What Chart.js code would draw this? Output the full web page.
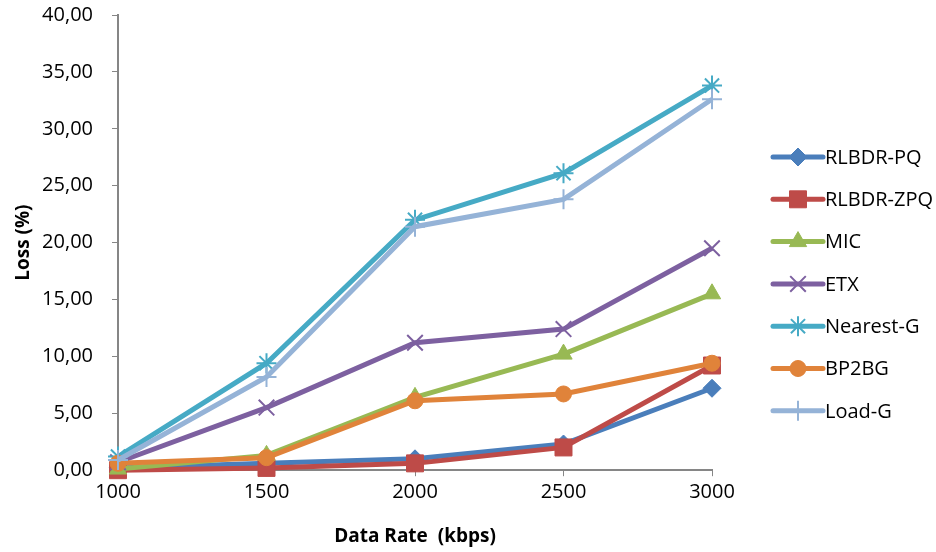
<!DOCTYPE html>
<html>
<head>
<meta charset="utf-8">
<script src="https://cdn.jsdelivr.net/npm/chart.js@4/dist/chart.umd.min.js"></script>
<style>
  html, body { margin: 0; padding: 0; background: #fff; }
  #wrap { width: 936px; height: 552px; }
</style>
</head>
<body>
<div id="wrap"><canvas id="lossChart" width="936" height="552"></canvas></div>
<script>
// data
const rates = ['1000', '1500', '2000', '2500', '3000'];
const yTicks = [0, 5, 10, 15, 20, 25, 30, 35, 40];

const rlbdrPq  = [0.2, 0.6, 1.0, 2.3, 7.2];
const rlbdrZpq = [0.0, 0.2, 0.6, 2.0, 9.2];
const mic      = [0.1, 1.3, 6.4, 10.2, 15.5];
const etx      = [0.7, 5.5, 11.2, 12.4, 19.5];
const nearestG = [1.2, 9.4, 22.0, 26.1, 33.8];
const bp2bg    = [0.6, 1.1, 6.1, 6.7, 9.4];
const loadG    = [0.9, 8.2, 21.4, 23.8, 32.6];

const seriesNames = ['RLBDR-PQ', 'RLBDR-ZPQ', 'MIC', 'ETX', 'Nearest-G', 'BP2BG', 'Load-G'];
const seriesData = [rlbdrPq, rlbdrZpq, mic, etx, nearestG, bp2bg, loadG];

const colors = ['#4A7EBB', '#BE4B48', '#98B954', '#7D60A0', '#46AAC5', '#E0833A', '#95B3D7'];
const markers = [
    { style: 'rectRot',  r: 9,  bw: 1 },
    { style: 'rect',     r: 12, bw: 1 },
    { style: 'triangle', r: 10, bw: 1 },
    { style: 'crossRot', r: 11, bw: 2 },
    { style: 'star',     r: 10, bw: 2 },
    { style: 'circle',   r: 8,  bw: 1 },
    { style: 'cross',    r: 10, bw: 2 }
];

const FONT = "'Open Sans', 'DejaVu Sans', sans-serif";
const AXIS_GRAY = '#868686';

function formatComma(v) {
    return v.toFixed(2).replace('.', ',');
}

const datasets = seriesNames.map((name, i) => ({
    label: name,
    data: seriesData[i],
    borderColor: colors[i],
    backgroundColor: colors[i],
    borderWidth: 5,
    pointStyle: markers[i].style,
    pointRadius: markers[i].r,
    pointHoverRadius: markers[i].r,
    pointBorderWidth: markers[i].bw,
    pointBackgroundColor: colors[i],
    pointBorderColor: colors[i],
    tension: 0,
    clip: false,
    order: seriesNames.length - i   // later series on top, like the original
}));

//Plugin for drawing the legend with a line + marker sample for each series
const lineLegend = {
    id: 'lineLegend',
    afterDraw(chart) {
        const ctx = chart.ctx;
        const startX = 773, lineLen = 50, firstY = 157, step = 42.3;
        ctx.save();
        chart.data.datasets.forEach((ds, i) => {
            const y = firstY + i * step;
            ctx.strokeStyle = ds.borderColor;
            ctx.lineWidth = 5;
            ctx.lineCap = 'round';
            ctx.beginPath();
            ctx.moveTo(startX, y);
            ctx.lineTo(startX + lineLen, y);
            ctx.stroke();

            ctx.fillStyle = ds.pointBackgroundColor;
            ctx.strokeStyle = ds.pointBorderColor;
            ctx.lineWidth = ds.pointBorderWidth;
            ctx.lineCap = 'butt';
            if (Chart.helpers && Chart.helpers.drawPoint) {
                Chart.helpers.drawPoint(ctx, {
                    pointStyle: ds.pointStyle,
                    radius: ds.pointRadius,
                    rotation: 0,
                    borderWidth: ds.pointBorderWidth
                }, startX + lineLen / 2, y);
            }

            ctx.fillStyle = '#000';
            ctx.font = '20px ' + FONT;
            ctx.textBaseline = 'middle';
            ctx.textAlign = 'left';
            ctx.fillText(ds.label, startX + lineLen + 2, y + 1);
        });
        ctx.restore();
    }
};

new Chart(document.getElementById('lossChart'), {
    type: 'line',
    data: { labels: rates, datasets: datasets },
    plugins: [lineLegend],
    options: {
        responsive: false,
        animation: false,
        events: [],
        layout: { padding: { left: 0, right: 224, top: 15, bottom: 0 } },
        plugins: {
            legend: { display: false },
            tooltip: { enabled: false }
        },
        scales: {
            x: {
                type: 'category',
                offset: false,
                grid: {
                    display: true,
                    drawOnChartArea: false,
                    drawTicks: true,
                    tickLength: 6,
                    color: AXIS_GRAY
                },
                border: { color: AXIS_GRAY, width: 2 },
                ticks: {
                    color: '#000',
                    font: { family: FONT, size: 20 },
                    padding: 4,
                    maxRotation: 0
                },
                title: {
                    display: true,
                    text: 'Data Rate  (kbps)',
                    color: '#000',
                    font: { family: FONT, size: 19, weight: 'bold' },
                    padding: { top: 17, bottom: 4 }
                }
            },
            y: {
                min: 0,
                max: 40,
                afterBuildTicks: (scale) => {
                    scale.ticks = yTicks.map(v => ({ value: v }));
                },
                afterFit: (scale) => {
                    scale.width = 118;
                    scale.paddingTop = 12;
                    scale.paddingBottom = 12;
                },
                grid: {
                    display: true,
                    drawOnChartArea: false,
                    drawTicks: true,
                    tickLength: 6,
                    color: AXIS_GRAY
                },
                border: { color: AXIS_GRAY, width: 2 },
                ticks: {
                    color: '#000',
                    font: { family: FONT, size: 20 },
                    padding: 19,
                    callback: (v) => formatComma(v)
                },
                title: {
                    display: true,
                    text: 'Loss (%)',
                    color: '#000',
                    font: { family: FONT, size: 19, weight: 'bold' },
                    padding: { top: 12, bottom: 4 }
                }
            }
        }
    }
});
</script>
</body>
</html>
